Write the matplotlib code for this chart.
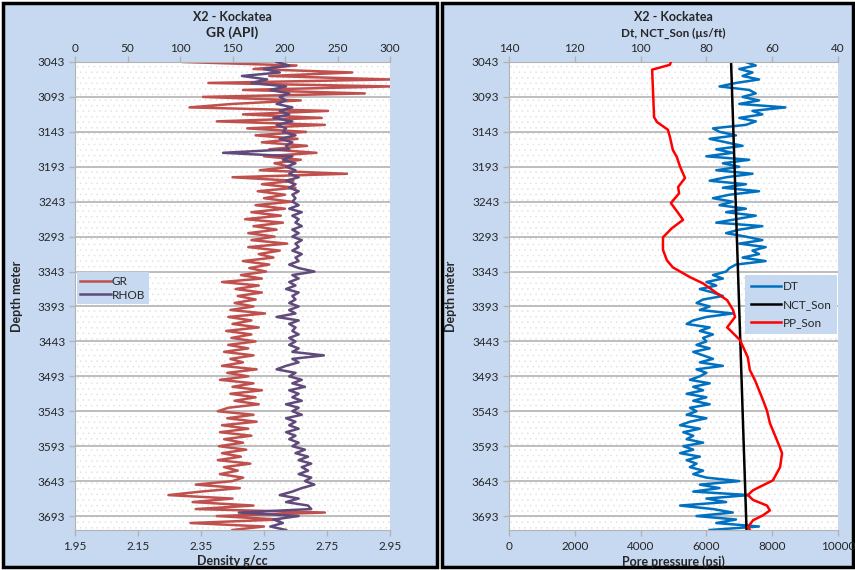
import matplotlib
matplotlib.use("Agg")
import matplotlib.pyplot as plt
import numpy as np
from matplotlib.patches import Rectangle

# depth sampling of the digitised logs (m)
DEPTH = np.arange(3043, 3714, 5)
DEPTH_TICKS = [3043, 3093, 3143, 3193, 3243, 3293, 3343, 3393, 3443, 3493,
               3543, 3593, 3643, 3693]

# GR (API), one value per DEPTH sample
GR = [103, 211, 170, 264, 185, 300, 127, 300, 160, 276,
      122, 215, 150, 109, 241, 160, 235, 135, 238, 164,
      220, 172, 212, 178, 221, 185, 230, 180, 215, 190,
      205, 176, 259, 150, 208, 178, 210, 174, 200, 180,
      206, 172, 200, 168, 196, 162, 198, 170, 192, 165,
      190, 168, 202, 165, 195, 175, 189, 160, 185, 166,
      182, 158, 178, 140, 175, 153, 178, 155, 172, 152,
      170, 148, 181, 146, 168, 150, 175, 144, 168, 149,
      172, 146, 165, 142, 170, 148, 160, 140, 173, 145,
      165, 138, 170, 150, 178, 148, 172, 152, 175, 146,
      136, 170, 145, 173, 140, 165, 138, 168, 142, 160,
      137, 163, 140, 158, 136, 167, 142, 155, 138, 160,
      150, 115, 157, 120, 89, 150, 112, 170, 115, 238,
      135, 195, 110, 180, 150]

# RHOB (g/cc)
RHOB = [2.59, 2.63, 2.55, 2.60, 2.48, 2.56, 2.51, 2.62, 2.57, 2.63,
        2.60, 2.62, 2.59, 2.64, 2.60, 2.63, 2.58, 2.64, 2.59, 2.62,
        2.61, 2.65, 2.60, 2.64, 2.62, 2.63, 2.42, 2.64, 2.61, 2.65,
        2.62, 2.65, 2.63, 2.66, 2.62, 2.65, 2.63, 2.66, 2.64, 2.65,
        2.64, 2.66, 2.63, 2.67, 2.64, 2.66, 2.65, 2.67, 2.64, 2.66,
        2.64, 2.67, 2.65, 2.66, 2.64, 2.67, 2.65, 2.66, 2.63, 2.66,
        2.71, 2.64, 2.66, 2.63, 2.65, 2.62, 2.66, 2.64, 2.65, 2.63,
        2.66, 2.63, 2.65, 2.59, 2.66, 2.63, 2.65, 2.64, 2.66, 2.63,
        2.65, 2.63, 2.66, 2.64, 2.74, 2.64, 2.66, 2.62, 2.59, 2.65,
        2.63, 2.67, 2.64, 2.68, 2.63, 2.66, 2.64, 2.67, 2.62, 2.66,
        2.64, 2.67, 2.62, 2.65, 2.63, 2.66, 2.62, 2.65, 2.63, 2.66,
        2.64, 2.68, 2.65, 2.69, 2.66, 2.70, 2.67, 2.69, 2.66, 2.70,
        2.68, 2.71, 2.67, 2.64, 2.60, 2.66, 2.62, 2.69, 2.70, 2.47,
        2.66, 2.58, 2.61, 2.57, 2.62]

# DT (us/ft)
DT = [68, 65, 70, 66, 69, 64, 71, 76, 67, 65,
      69, 64, 70, 56, 66, 63, 70, 65, 68, 78,
      76, 71, 79, 74, 69, 77, 72, 80, 67, 75,
      70, 77, 66, 74, 79, 68, 75, 64, 73, 78,
      72, 76, 68, 74, 65, 71, 77, 63, 70, 74,
      68, 63, 70, 62, 66, 64, 69, 62, 71, 73,
      74, 78, 75, 80, 77, 82, 78, 75, 81, 83,
      79, 82, 72, 80, 84, 86, 79, 82, 78, 81,
      80, 83, 79, 84, 81, 78, 82, 75, 83, 80,
      82, 85, 79, 84, 81, 86, 80, 84, 79, 85,
      83, 86, 80, 85, 88, 82, 87, 84, 86, 81,
      87, 84, 88, 82, 86, 83, 85, 81, 84, 80,
      70, 82, 76, 84, 67, 80, 74, 88, 78, 72,
      83, 71, 77, 64, 79]

# normal compaction trend (us/ft)
NCT_DEPTH = [3043, 3713]
NCT = [72.5, 67.8]

# pore pressure from sonic (psi)
PP_DEPTH = [3043, 3047, 3054, 3122, 3129, 3140, 3150, 3169, 3179, 3193,
            3209, 3222, 3231, 3245, 3259, 3269, 3281, 3294, 3312, 3327,
            3337, 3351, 3360, 3367, 3374, 3384, 3398, 3408, 3423, 3427,
            3441, 3466, 3484, 3499, 3527, 3542, 3560, 3585, 3603, 3623,
            3642, 3656, 3663, 3670, 3678, 3685, 3692, 3699, 3709, 3713]
PP = [4920, 4890, 4350, 4410, 4500, 4830, 4890, 4980, 5100, 5200,
      5350, 5140, 5170, 4920, 5140, 5290, 4950, 4680, 4680, 4800,
      4980, 5500, 5900, 6110, 6320, 6630, 6810, 6870, 6630, 6720,
      7020, 7260, 7320, 7480, 7720, 7840, 7930, 8150, 8300, 8240,
      8020, 7420, 7260, 7420, 7840, 7930, 7720, 7420, 7260, 7320]

PANEL_BG = "#C6D9F1"
TXT = "#262626"
GRID = "#B3B3B3"

plt.rcParams["font.family"] = ["Lato", "DejaVu Sans"]
plt.rcParams["font.size"] = 8.5
plt.rcParams["hatch.linewidth"] = 0.4

W, H = 855, 570
fig = plt.figure(figsize=(W / 100, H / 100), dpi=100)


def fx(px):
    return px / W


def fy(py):
    return 1 - py / H


# the two chart boxes, behind the axes
for x0, x1 in [(3, 437), (442, 853)]:
    fig.patches.append(Rectangle((fx(x0), fy(567)), fx(x1 - x0), (567 - 3) / H,
                                 transform=fig.transFigure, facecolor=PANEL_BG,
                                 edgecolor="black", linewidth=2.5, zorder=-10))


def make_track(left, right):
    ax = fig.add_axes([fx(left), fy(530), fx(right - left), (530 - 62) / H])
    ax2 = ax.twiny()
    ax.add_patch(Rectangle((0, 0), 1, 1, transform=ax.transAxes, facecolor="white",
                           edgecolor="#E2E2E2", hatch="...", linewidth=0, zorder=0))
    ax.set_ylim(3713, 3043)
    ax.set_yticks(DEPTH_TICKS)
    ax.set_axisbelow(True)
    ax.yaxis.grid(True, color=GRID, linewidth=1.2)
    # main axes carries the top scale, the twin the bottom one
    ax.xaxis.tick_top()
    ax.xaxis.set_label_position("top")
    ax.tick_params(axis="both", colors=GRID, labelcolor=TXT, length=4, width=1)
    ax.tick_params(axis="x", pad=2)
    ax.tick_params(axis="y", pad=3)
    for s in ["right", "bottom"]:
        ax.spines[s].set_visible(False)
    ax.spines["top"].set_color(GRID)
    ax.spines["left"].set_color(GRID)
    ax2.xaxis.tick_bottom()
    ax2.xaxis.set_label_position("bottom")
    ax2.tick_params(axis="x", colors=GRID, labelcolor=TXT, length=4, width=1, pad=4)
    for s in ["right", "top", "left"]:
        ax2.spines[s].set_visible(False)
    ax2.spines["bottom"].set_visible(True)
    ax2.spines["bottom"].set_color(GRID)
    fig.text(fx(left - 58), fy(296), "Depth meter", rotation=90, ha="center",
             va="center", fontsize=9, fontweight="bold", color=TXT)
    return ax, ax2


# ---- left track: GR / RHOB
axL, axL2 = make_track(75, 390)
l_gr, = axL.plot(GR, DEPTH, color="#C0504D", linewidth=1.8, label="GR")
axL.set_xlim(0, 300)
axL.set_xticks([0, 50, 100, 150, 200, 250, 300])
l_rhob, = axL2.plot(RHOB, DEPTH, color="#604A7B", linewidth=1.8, label="RHOB")
axL2.set_xlim(1.95, 2.95)
axL2.set_xticks([1.95, 2.15, 2.35, 2.55, 2.75, 2.95])
axL2.set_xticklabels(["1.95", "2.15", "2.35", "2.55", "2.75", "2.95"])
axL2.set_xlabel("Density g/cc", fontsize=9, fontweight="bold", color=TXT, labelpad=2)
fig.text(fx(232), fy(17), "X2 - Kockatea", ha="center", va="center",
         fontsize=9, fontweight="bold", color=TXT)
fig.text(fx(232), fy(33), "GR (API)", ha="center", va="center",
         fontsize=10, fontweight="bold", color=TXT)
legL = axL2.legend(handles=[l_gr, l_rhob], loc="upper left",
                   bbox_to_anchor=(0.005, 0.551), borderaxespad=0, frameon=True,
                   fancybox=False, facecolor=PANEL_BG, edgecolor="none",
                   framealpha=1, fontsize=8.5, handlelength=2.6, handletextpad=0.1,
                   borderpad=0.3, labelspacing=0.25)
legL.get_frame().set_linewidth(0)
for t in legL.get_texts():
    t.set_color(TXT)

# ---- right track: DT / NCT / PP
axR, axR2 = make_track(509, 838)
l_dt, = axR.plot(DT, DEPTH, color="#0070C0", linewidth=1.8, label="DT")
l_nct, = axR.plot(NCT, NCT_DEPTH, color="black", linewidth=1.8, label="NCT_Son")
axR.set_xlim(140, 40)
axR.set_xticks([140, 120, 100, 80, 60, 40])
l_pp, = axR2.plot(PP, PP_DEPTH, color="#FF0000", linewidth=1.8, label="PP_Son")
axR2.set_xlim(0, 10000)
axR2.set_xticks([0, 2000, 4000, 6000, 8000, 10000])
axR2.set_xlabel("Pore pressure (psi)", fontsize=9, fontweight="bold", color=TXT,
                labelpad=2)
fig.text(fx(673), fy(17), "X2 - Kockatea", ha="center", va="center",
         fontsize=9, fontweight="bold", color=TXT)
fig.text(fx(673), fy(33), "Dt, NCT_Son (\u00b5s/ft)", ha="center", va="center",
         fontsize=8.5, fontweight="bold", color=TXT)
legR = axR2.legend(handles=[l_dt, l_nct, l_pp], loc="upper left",
                   bbox_to_anchor=(0.717, 0.545), borderaxespad=0, frameon=True,
                   fancybox=False, facecolor=PANEL_BG, edgecolor="none",
                   framealpha=1, fontsize=8.5, handlelength=2.6, handletextpad=0.1,
                   borderpad=0.5, labelspacing=0.6)
legR.get_frame().set_linewidth(0)
for t in legR.get_texts():
    t.set_color(TXT)

fig.savefig("out.png", dpi=100, facecolor="white")
